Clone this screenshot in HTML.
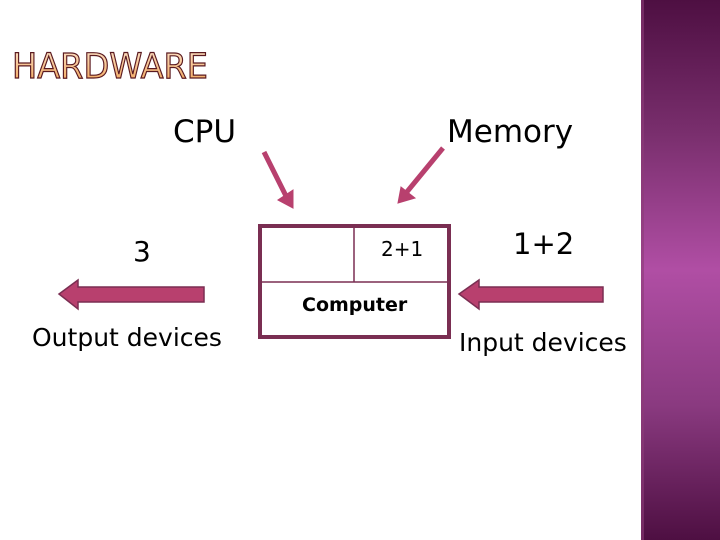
<!DOCTYPE html>
<html><head><meta charset="utf-8"><style>
body{margin:0;width:720px;height:540px;overflow:hidden;background:#fff;position:relative;font-family:"DejaVu Sans","Liberation Sans",sans-serif;}
.t{position:absolute;white-space:nowrap;color:#000;line-height:1;}
#side{position:absolute;left:641px;top:0;width:79px;height:540px;background:linear-gradient(#4e0f42 0%,#7a2f6e 25%,#b04ea4 50%,#8a3a80 75%,#4e0f42 100%);}
#side:before{content:"";position:absolute;left:0;top:0;width:3px;height:540px;background:rgba(140,60,120,.6);}
</style></head><body>
<div id="side"></div>
<svg width="720" height="540" style="position:absolute;left:0;top:0">
<defs><linearGradient id="g" x1="0" y1="0" x2="0" y2="1"><stop offset="0" stop-color="#fde4cc"/><stop offset="1" stop-color="#f0a050"/></linearGradient></defs>
<text x="12" y="78" font-family="DejaVu Sans,sans-serif" font-size="35" fill="url(#g)" stroke="#5a1a20" stroke-width="1.2" textLength="196" lengthAdjust="spacingAndGlyphs">HARDWARE</text>
<g fill="#b8406e" stroke="#7a2e52" stroke-width="1.5">
<polygon points="204,287 78,287 78,280 59,294 78,309 78,302 204,302"/>
<polygon points="603,287 479,287 479,280 459,294 479,309 479,302 603,302"/>
</g>
<g stroke="#b8406e" stroke-width="5" fill="#b8406e">
<line x1="264" y1="152" x2="286" y2="196"/>
<polygon points="278,200 293,208 293,190" stroke-width="1"/>
<line x1="443" y1="148" x2="406" y2="193"/>
<polygon points="398,203 415,198 401,187" stroke-width="1"/>
</g>
<rect x="260" y="226" width="189" height="111" fill="none" stroke="#7a2e52" stroke-width="4"/>
<line x1="260" y1="282" x2="449" y2="282" stroke="#7a2e52" stroke-width="1.5"/>
<line x1="354" y1="226" x2="354" y2="282" stroke="#7a2e52" stroke-width="1.5"/>
</svg>
<div class="t" style="left:173px;top:117px;font-size:31px">CPU</div>
<div class="t" style="left:447px;top:117px;font-size:31px">Memory</div>
<div class="t" style="left:133px;top:238px;font-size:28px">3</div>
<div class="t" style="left:381px;top:239px;font-size:20px">2+1</div>
<div class="t" style="left:513px;top:230px;font-size:29px">1+2</div>
<div class="t" style="left:302px;top:296px;font-size:19px;font-weight:bold">Computer</div>
<div class="t" style="left:32px;top:325px;font-size:25px">Output devices</div>
<div class="t" style="left:459px;top:330px;font-size:25px">Input devices</div>
</body></html>
